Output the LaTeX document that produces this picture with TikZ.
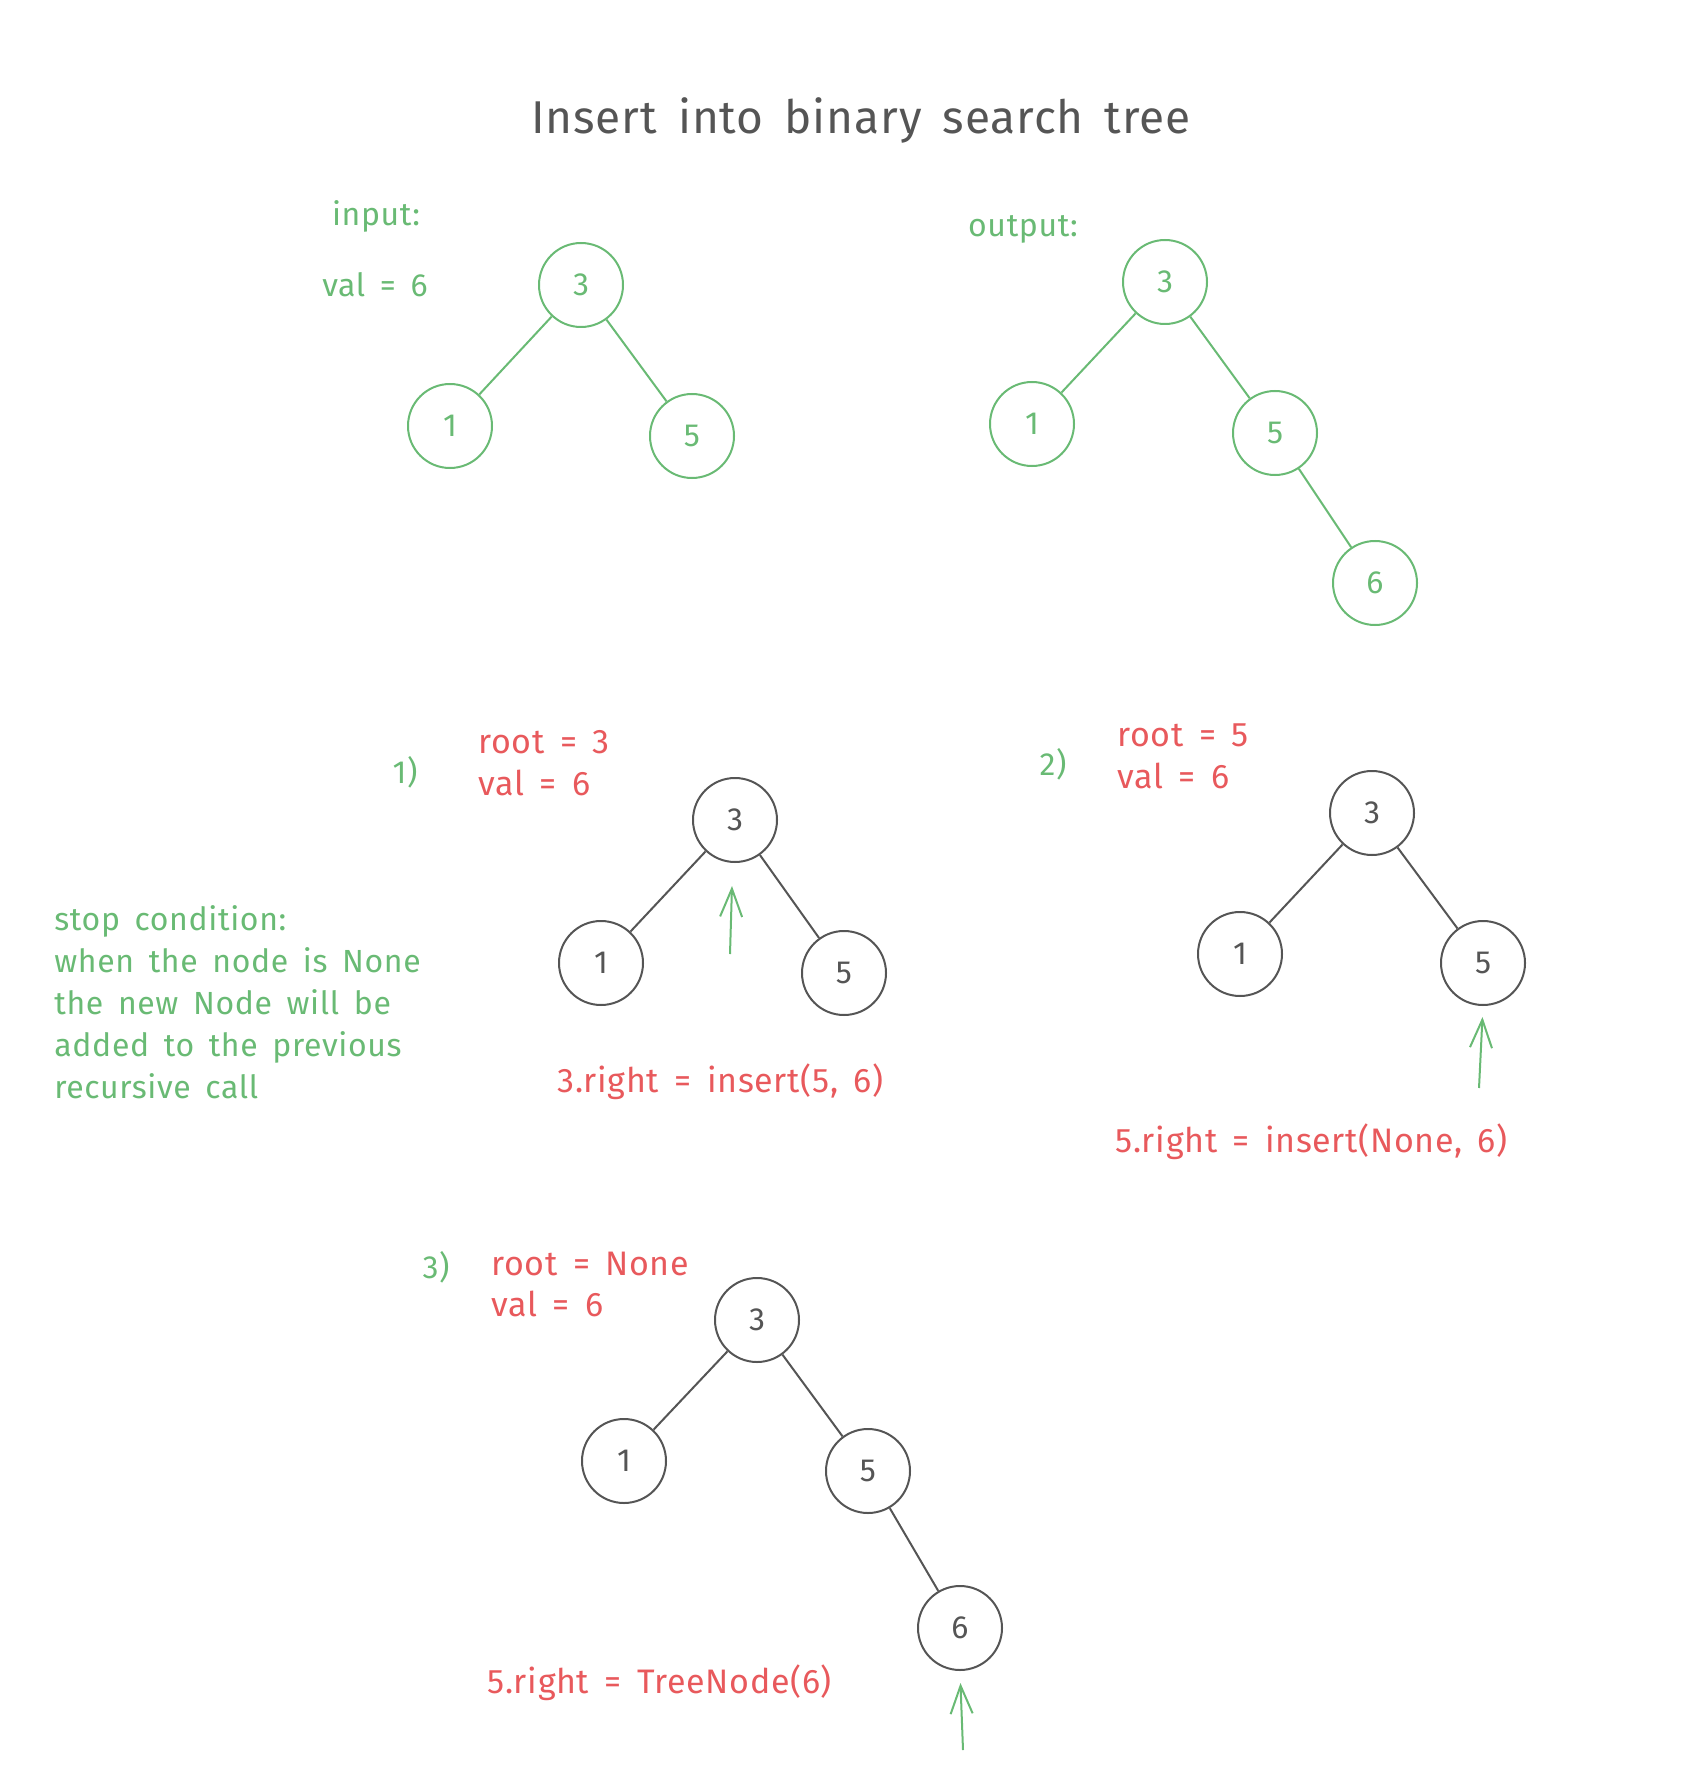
\documentclass[tikz,border=0pt]{standalone}
\usepackage{fontspec}
\setmainfont{Fira Sans}[WordSpace=1.6, LetterSpace=2]
\usetikzlibrary{arrows.meta,positioning}
\definecolor{treegreen}{RGB}{105,186,116}
\definecolor{callred}{RGB}{232,89,92}
\definecolor{inkgray}{RGB}{85,85,85}

\begin{document}
\begin{tikzpicture}[x=0.5pt, y=-0.5pt,
  bst/.style={draw, circle, minimum size=42pt, inner sep=0pt, line width=1pt, font=\fontsize{16}{18}\selectfont},
  greenbst/.style={bst, treegreen, text=treegreen},
  graybst/.style={bst, inkgray, text=inkgray},
  greenlbl/.style={treegreen, inner sep=0pt, font=\fontsize{16}{20}\selectfont},
  redlbl/.style={callred, inner sep=0pt, anchor=west, font=\fontsize{17}{20}\selectfont},
  pointer/.style={-{Straight Barb[length=14pt, width=11pt]}, treegreen, line width=1pt},
  link/.style={line width=1pt}]
  \useasboundingbox (0,0) rectangle (1698,1786);

  \node[inkgray, font=\fontsize{23}{27}\selectfont] (title) at (861,120) {Insert into binary search tree};

  % input
  \node[greenlbl] (inlbl) at (376,216) {input:};
  \node[greenlbl] (inval) at (375,285) {val = 6};
  \node[greenbst] (in3) at (581,285) {3};
  \node[greenbst] (in1) at (450,426) {1};
  \node[greenbst] (in5) at (692,436) {5};
  \foreach \c in {in1,in5}
    \draw[link, treegreen] (in3) -- (\c);

  % output
  \node[greenlbl] (outlbl) at (1023,229) {output:};
  \node[greenbst] (out3) at (1165,282) {3};
  \node[greenbst] (out1) at (1032,424) {1};
  \node[greenbst] (out5) at (1275,433) {5};
  \node[greenbst] (out6) at (1375,583) {6};
  \foreach \p/\c in {out3/out1,out3/out5,out5/out6}
    \draw[link, treegreen] (\p) -- (\c);

  % step 1
  \node[greenlbl] (num1) at (405,772) {1)};
  \node[redlbl] (root1) at (478,742) {root = 3};
  \node[redlbl] (val1) at (478,783) {val = 6};
  \node[graybst] (sa3) at (735,820) {3};
  \node[graybst] (sa1) at (601,963) {1};
  \node[graybst] (sa5) at (844,973) {5};
  \foreach \c in {sa1,sa5}
    \draw[link, inkgray] (sa3) -- (\c);
  \coordinate (taila) at (730,954);
  \coordinate (tipa) at (732,886);
  \draw[pointer] (taila) -- (tipa);
  \node[redlbl] (calla) at (557,1082) {3.right = insert(5, 6)};

  % step 2
  \node[greenlbl] (num2) at (1053,764) {2)};
  \node[redlbl] (root2) at (1117,735) {root = 5};
  \node[redlbl] (val2) at (1117,776) {val = 6};
  \node[graybst] (sb3) at (1372,813) {3};
  \node[graybst] (sb1) at (1240,954) {1};
  \node[graybst] (sb5) at (1483,963) {5};
  \foreach \c in {sb1,sb5}
    \draw[link, inkgray] (sb3) -- (\c);
  \coordinate (tailb) at (1479,1088);
  \draw[pointer, shorten >=5.5pt] (tailb) -- (sb5.south);
  \node[redlbl] (callb) at (1115,1142) {5.right = insert(None, 6)};

  % step 3
  \node[greenlbl] (num3) at (436,1267) {3)};
  \node[redlbl] (root3) at (491,1264) {root = None};
  \node[redlbl] (val3) at (491,1304) {val = 6};
  \node[graybst] (sc3) at (757,1320) {3};
  \node[graybst] (sc1) at (624,1461) {1};
  \node[graybst] (sc5) at (868,1471) {5};
  \node[graybst] (sc6) at (960,1628) {6};
  \foreach \p/\c in {sc3/sc1,sc3/sc5,sc5/sc6}
    \draw[link, inkgray] (\p) -- (\c);
  \coordinate (tailc) at (963,1750);
  \draw[pointer, shorten >=6pt] (tailc) -- (sc6.south);
  \node[redlbl] (callc) at (487,1683) {5.right = TreeNode(6)};

  % stop condition
  \node[greenlbl, anchor=west, align=left, font=\fontsize{16}{21}\selectfont] (stop) at (54,1002)
    {stop condition:\\when the node is None\\the new Node will be\\added to the previous\\recursive call};
\end{tikzpicture}
\end{document}
